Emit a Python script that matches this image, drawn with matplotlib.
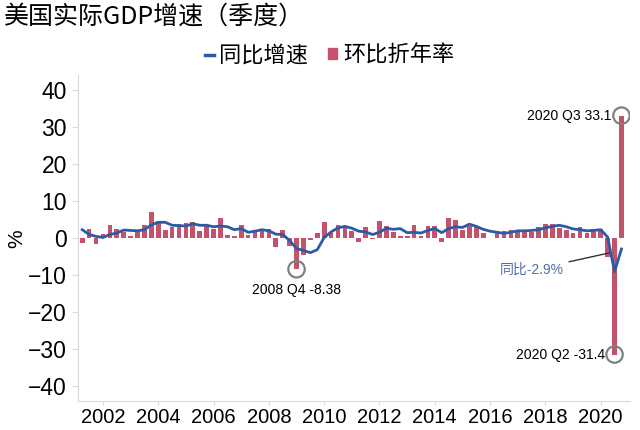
import matplotlib
matplotlib.use('Agg')
import matplotlib.pyplot as plt
from matplotlib.lines import Line2D
from matplotlib.patches import Patch

plt.rcParams['font.family'] = ['Liberation Sans', 'Noto Sans CJK SC']

# quarterly data, 2001 Q1 .. 2020 Q3
start_year = 2001
qoq = [-1.3, 2.5, -1.6, 1.1,    # 2001
       3.5, 2.4, 1.8, 0.6,      # 2002
       2.2, 3.5, 7.0, 4.7,      # 2003
       2.2, 3.1, 3.8, 4.1,      # 2004
       4.5, 1.9, 3.6, 2.6,      # 2005
       5.4, 0.9, 0.6, 3.5,      # 2006
       0.9, 2.3, 2.2, 2.5,      # 2007
       -2.3, 2.1, -2.1, -8.38,  # 2008
       -4.4, -0.6, 1.5, 4.5,    # 2009
       1.5, 3.7, 3.0, 2.0,      # 2010
       -1.0, 2.9, -0.1, 4.7,    # 2011
       3.2, 1.7, 0.5, 0.5,      # 2012
       3.6, 0.5, 3.2, 3.2,      # 2013
       -1.1, 5.5, 5.0, 2.3,     # 2014
       3.2, 3.0, 1.3, 0.1,      # 2015
       2.0, 1.9, 2.2, 2.0,      # 2016
       2.3, 1.7, 2.9, 3.9,      # 2017
       3.8, 2.7, 2.1, 1.3,      # 2018
       2.9, 1.5, 2.6, 2.4,      # 2019
       -5.0, -31.4, 33.1]       # 2020
yoy = [2.3, 1.0, 0.5, 0.2,
       1.0, 1.4, 2.2, 2.1,
       2.0, 2.3, 3.6, 4.3,
       4.3, 3.5, 3.4, 3.3,
       3.9, 3.5, 3.5, 3.1,
       3.3, 3.1, 2.3, 2.6,
       1.6, 1.9, 2.3, 2.0,
       1.1, 1.0, -0.6, -2.8,
       -3.3, -3.9, -3.1, 0.2,
       1.7, 2.8, 3.2, 2.7,
       1.9, 1.7, 1.0, 1.6,
       2.7, 2.4, 2.6, 1.5,
       1.6, 1.4, 2.1, 2.6,
       1.5, 2.6, 3.1, 2.9,
       3.8, 3.2, 2.4, 1.9,
       1.6, 1.3, 1.6, 2.0,
       2.0, 2.1, 2.3, 2.8,
       3.2, 3.5, 3.1, 2.5,
       2.3, 2.0, 2.1, 2.3,
       0.3, -9.0, -2.9]

# quarter positions on a year axis (Q1 drawn at year + 0.25)
x = [start_year + (i + 1) / 4 for i in range(len(qoq))]

red = '#c4526a'
blue = '#2b5ba8'
grey = '#d9d9d9'

fig = plt.figure(figsize=(6.4, 4.3), dpi=100)
ax = fig.add_axes([0.122, 0.067, 0.862, 0.758])

ax.bar(x, qoq, width=0.17, color=red, zorder=2)
ax.plot(x, yoy, color=blue, lw=2, zorder=3)

ax.set_ylim(-44, 44)
ax.set_yticks(range(-40, 41, 10))
ax.set_xlim(2001.1, 2021.05)
ax.set_xticks(range(2002, 2021, 2))
ax.tick_params(axis='y', labelsize=16.5, color=grey, length=4, pad=4)
ax.tick_params(axis='x', labelsize=14.5, color=grey, length=3, pad=2)
for s in ['top', 'right']:
    ax.spines[s].set_visible(False)
for s in ['left', 'bottom']:
    ax.spines[s].set_color(grey)
ax.set_ylabel('%', fontsize=15, labelpad=1)

# highlighted points
pts_x = [x[31], x[77], x[78]]
pts_y = [qoq[31], qoq[77], qoq[78]]
ax.scatter(pts_x, pts_y, s=140, facecolors='none', edgecolors='#808080', linewidths=1.6, zorder=4)
ax.text(x[31], -14, '2008 Q4 -8.38', ha='center', va='center', fontsize=10)
ax.text(x[78] - 0.35, qoq[78], '2020 Q3 33.1', ha='right', va='center', fontsize=10)
ax.text(x[77] - 0.35, qoq[77], '2020 Q2 -31.4', ha='right', va='center', fontsize=10)
ax.annotate('同比-2.9%', xy=(2020.41, -3.8), xytext=(2017.5, -8.6), ha='center', va='center',
            fontsize=10, color='#4f6fa8',
            arrowprops=dict(arrowstyle='-', color='#333333', lw=1))

fig.text(0.006, 0.962, '美国实际GDP增速（季度）', fontsize=18, ha='left', va='center',
         family=['Noto Sans CJK SC'])
handles = [Line2D([], [], color=blue, lw=2.5), Patch(color=red)]
fig.legend(handles, ['同比增速', '环比折年率'], loc='center', bbox_to_anchor=(0.515, 0.872),
           ncol=2, frameon=False, handlelength=0.4, handleheight=0.4,
           handletextpad=0.25, columnspacing=0.9, prop={'family': ['Noto Sans CJK SC'], 'size': 16})

fig.savefig('out.png', dpi=100)
